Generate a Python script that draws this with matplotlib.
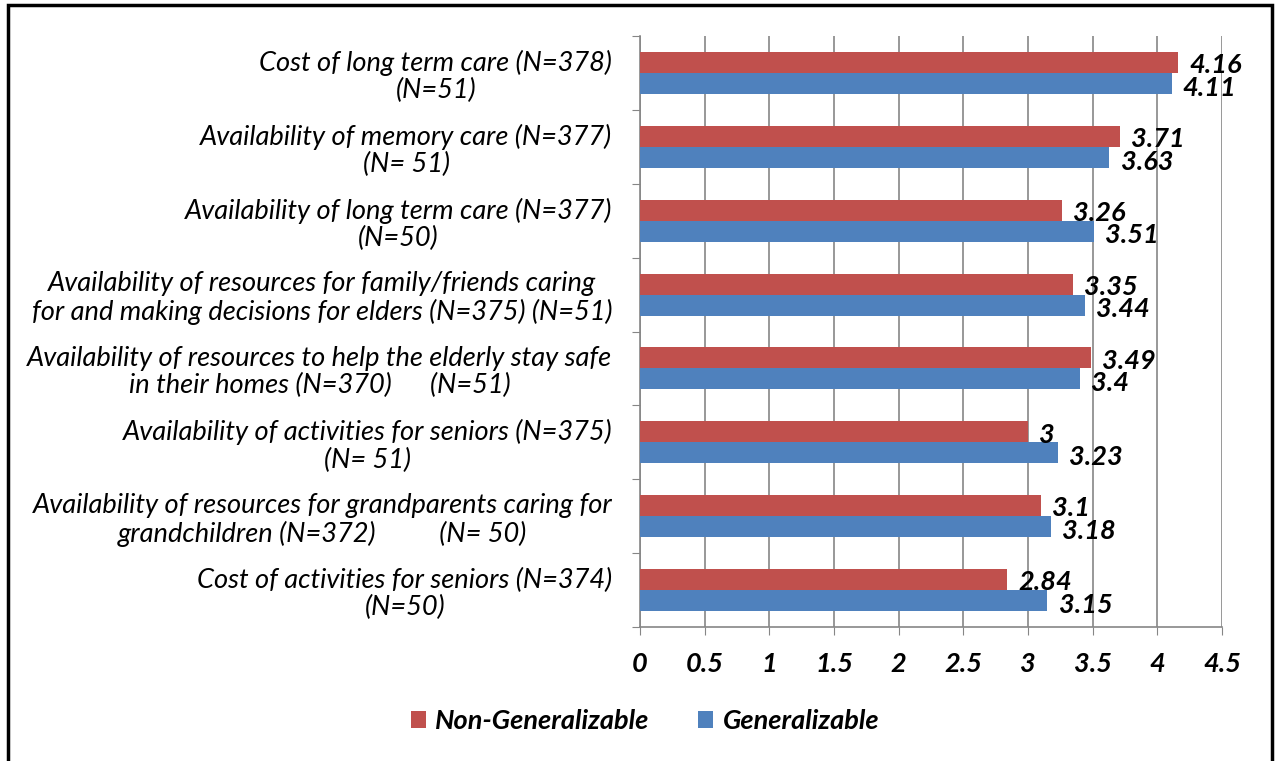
import matplotlib
matplotlib.use("Agg")
import matplotlib.pyplot as plt
from matplotlib.patches import Rectangle, Patch
import numpy as np

plt.rcParams['font.family'] = ['Lato', 'DejaVu Sans']

categories = [
    "Cost of long term care (N=378)\n(N=51)",
    "Availability of memory care (N=377)\n(N= 51)",
    "Availability of long term care (N=377)\n(N=50)",
    "Availability of resources for family/friends caring\nfor and making decisions for elders (N=375) (N=51)",
    "Availability of resources to help the elderly stay safe\nin their homes (N=370)      (N=51)",
    "Availability of activities for seniors (N=375)\n(N= 51)",
    "Availability of resources for grandparents caring for\ngrandchildren (N=372)          (N= 50)",
    "Cost of activities for seniors (N=374)\n(N=50)",
]
non_generalizable = [4.16, 3.71, 3.26, 3.35, 3.49, 3.00, 3.10, 2.84]
generalizable = [4.11, 3.63, 3.51, 3.44, 3.40, 3.23, 3.18, 3.15]
x_ticks = [0, 0.5, 1, 1.5, 2, 2.5, 3, 3.5, 4, 4.5]
series_names = ["Non-Generalizable", "Generalizable"]

red = "#C0504D"
blue = "#4F81BD"

fig = plt.figure(figsize=(12.75, 7.61), dpi=100)
ax = fig.add_axes([640/1275, 1 - 627/761, (1222-640)/1275, (627-36)/761])

n = len(categories)
y = np.arange(n)[::-1].astype(float)  # first category at top
h = 0.285
ax.barh(y + h/2, non_generalizable, height=h, color=red, zorder=3)
ax.barh(y - h/2, generalizable, height=h, color=blue, zorder=3)

for yi, v in zip(y, non_generalizable):
    ax.annotate(f"{v:g}", (v, yi + h/2), xytext=(8, -2), textcoords="offset points",
                ha="left", va="center", fontsize=19.5, fontweight="bold", fontstyle="italic", zorder=4)
for yi, v in zip(y, generalizable):
    ax.annotate(f"{v:g}", (v, yi - h/2), xytext=(8, -3), textcoords="offset points",
                ha="left", va="center", fontsize=19.5, fontweight="bold", fontstyle="italic", zorder=4)

ax.set_xlim(0, 4.5)
ax.set_ylim(-0.5, n - 0.5)
ax.set_xticks(x_ticks)
ax.set_xticklabels([f"{t:g}" for t in x_ticks], fontsize=19.5, fontweight="bold", fontstyle="italic")
ax.tick_params(axis="x", length=6, color="#868686", pad=12)

# category boundaries as ticks, labels as minor ticks at centers
ax.set_yticks(np.arange(-0.5, n, 1.0))
ax.set_yticklabels([])
ax.tick_params(axis="y", which="major", length=6, color="#868686")
ax.set_yticks(y, minor=True)
ax.set_yticklabels(categories, minor=True, fontsize=19.6, fontstyle="italic",
                   multialignment="center", linespacing=1.12)
ax.tick_params(axis="y", which="minor", length=0, pad=20)

ax.grid(axis="x", color="#868686", linewidth=1.2, zorder=0)
ax.set_axisbelow(True)
for s in ["top", "right"]:
    ax.spines[s].set_visible(False)
for s in ["left", "bottom"]:
    ax.spines[s].set_color("#868686")
    ax.spines[s].set_linewidth(1.2)

handles = [Patch(facecolor=red), Patch(facecolor=blue)]
leg = fig.legend(handles, series_names, loc="center", bbox_to_anchor=(645/1275, 1 - 721/761),
                 ncol=2, frameon=False, handlelength=0.55, handleheight=0.55, handletextpad=0.35,
                 columnspacing=1.8, prop={"size": 19.5, "weight": "bold", "style": "italic"})

fig.patches.append(Rectangle((8/1275, -0.02), (1272-8)/1275, 1.02 - 5/761,
                             transform=fig.transFigure, fill=False, edgecolor="black",
                             linewidth=2.5, zorder=10))

fig.savefig("out.png", dpi=100, facecolor="white")
